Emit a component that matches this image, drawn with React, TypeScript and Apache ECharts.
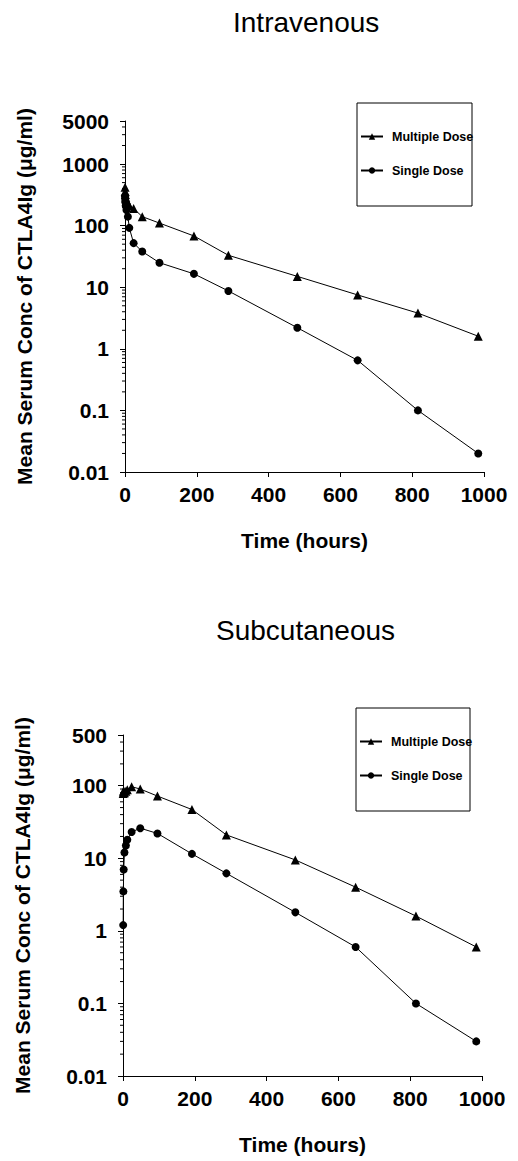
import React, { useEffect, useRef } from "react";
import * as echarts from "echarts";

// ---- Data (hours, µg/ml) ----
const ivTimes = [0.25, 0.5, 1, 2, 4, 8, 12, 24, 48, 96, 192, 288, 480, 648, 816, 984];
const ivMultiple = [420, 360, 320, 290, 260, 230, 210, 190, 140, 110, 68, 33, 15, 7.5, 3.8, 1.6];
const ivSingle = [300, 270, 240, 210, 180, 140, 92, 52, 38, 25, 16.5, 8.7, 2.2, 0.65, 0.1, 0.02];

const scTimes = [0.5, 1, 2, 4, 8, 12, 24, 48, 96, 192, 288, 480, 648, 816, 984];
const scMultiple = [78, 82, 85, 80, 84, 88, 97, 90, 72, 47, 21, 9.5, 4, 1.6, 0.6];
const scSingle = [1.2, 3.5, 7, 12, 15, 18, 23, 26, 22, 11.5, 6.2, 1.8, 0.6, 0.1, 0.03];

const xTicks = [0, 200, 400, 600, 800, 1000];
const ivYRange = [0.01, 5000];
const scYRange = [0.01, 500];

const seriesNames = ["Multiple Dose", "Single Dose"];
const titles = ["Intravenous", "Subcutaneous"];
const xName = "Time (hours)";
const yName = "Mean Serum Conc of CTLA4Ig (μg/ml)";

function minorTickValues(min: number, max: number): number[][] {
  const out: number[][] = [];
  for (let d = min; d < max; d *= 10) {
    for (let m = 2; m <= 9; m++) {
      const v = +(d * m).toPrecision(6);
      if (v < max) out.push([0, v]);
    }
  }
  return out;
}

const FONT = "'Liberation Sans', Arial, Helvetica, sans-serif";

export default function App() {
  const ref = useRef<HTMLDivElement>(null);

  useEffect(() => {
    if (!ref.current) return;
    const chart = echarts.init(ref.current, null, { renderer: "svg" });

    const grids = [
      { left: 125, top: 121, width: 359, height: 351 },
      { left: 123, top: 735, width: 359, height: 341 },
    ];

    const axisLabelStyle = {
      color: "#000",
      fontSize: 21,
      fontWeight: "bold" as const,
      fontFamily: FONT,
    };

    const xAxes = [0, 1].map((i) => ({
      type: "value" as const,
      gridIndex: i,
      min: xTicks[0],
      max: xTicks[xTicks.length - 1],
      interval: xTicks[1] - xTicks[0],
      axisLine: { show: true, onZero: false, lineStyle: { color: "#000", width: 1 } },
      axisTick: { show: true, inside: false, length: 5, lineStyle: { color: "#000" } },
      splitLine: { show: false },
      axisLabel: { ...axisLabelStyle, margin: 12, formatter: (v: number) => String(v) },
      name: xName,
      nameLocation: "middle" as const,
      nameGap: 58,
      nameTextStyle: { ...axisLabelStyle },
    }));

    const ranges = [ivYRange, scYRange];
    const yAxes = [0, 1].map((i) => ({
      type: "log" as const,
      logBase: 10,
      gridIndex: i,
      min: ranges[i][0],
      max: ranges[i][1],
      axisLine: { show: true, lineStyle: { color: "#000", width: 1 } },
      axisTick: { show: true, inside: false, length: 5, lineStyle: { color: "#000" } },
      splitLine: { show: false },
      axisLabel: {
        ...axisLabelStyle,
        margin: 16,
        formatter: (v: number) => String(+Number(v).toPrecision(4)),
      },
      name: yName,
      nameLocation: "middle" as const,
      nameGap: 90,
      nameTextStyle: { ...axisLabelStyle },
    }));

    const lineSeries = (name: string, times: number[], vals: number[], idx: number, symbol: string) => ({
      type: "line" as const,
      name,
      xAxisIndex: idx,
      yAxisIndex: idx,
      data: times.map((t, k) => [t, vals[k]]),
      symbol,
      symbolSize: symbol === "triangle" ? 9 : 8,
      showSymbol: true,
      itemStyle: { color: "#000" },
      lineStyle: { color: "#000", width: 1 },
      z: 3,
    });

    const minorSeries = (idx: number) => ({
      type: "custom" as const,
      xAxisIndex: idx,
      yAxisIndex: idx,
      clip: false,
      silent: true,
      data: minorTickValues(ranges[idx][0], ranges[idx][1]),
      renderItem: (_params: any, api: any) => {
        const p = api.coord([api.value(0), api.value(1)]);
        return {
          type: "line",
          shape: { x1: p[0] - 3, y1: p[1], x2: p[0], y2: p[1] },
          style: { stroke: "#000", lineWidth: 1 },
        };
      },
      z: 2,
    });

    const legendBase = {
      orient: "vertical" as const,
      itemWidth: 22,
      itemHeight: 8,
      itemGap: 21,
      padding: 0,
      data: seriesNames,
      selectedMode: false,
      textStyle: {
        color: "#000",
        fontSize: 12.5,
        fontWeight: "bold" as const,
        fontFamily: FONT,
        padding: [0, 0, 0, 4],
      },
    };

    chart.setOption({
      animation: false,
      backgroundColor: "#fff",
      title: [
        {
          text: titles[0],
          left: 233,
          top: 8,
          padding: 0,
          textStyle: { color: "#000", fontSize: 28, fontWeight: "normal", fontFamily: FONT },
        },
        {
          text: titles[1],
          left: 216,
          top: 616,
          padding: 0,
          textStyle: { color: "#000", fontSize: 28, fontWeight: "normal", fontFamily: FONT },
        },
      ],
      legend: [
        { ...legendBase, left: 360, top: 130 },
        { ...legendBase, left: 359, top: 735 },
      ],
      grid: grids,
      xAxis: xAxes,
      yAxis: yAxes,
      series: [
        lineSeries(seriesNames[0], ivTimes, ivMultiple, 0, "triangle"),
        lineSeries(seriesNames[1], ivTimes, ivSingle, 0, "circle"),
        lineSeries(seriesNames[0], scTimes, scMultiple, 1, "triangle"),
        lineSeries(seriesNames[1], scTimes, scSingle, 1, "circle"),
        minorSeries(0),
        minorSeries(1),
      ],
      graphic: [
        {
          type: "rect",
          shape: { x: 357, y: 103, width: 115, height: 103 },
          style: { fill: "none", stroke: "#000", lineWidth: 1 },
          silent: true,
        },
        {
          type: "rect",
          shape: { x: 356, y: 708, width: 114, height: 103 },
          style: { fill: "none", stroke: "#000", lineWidth: 1 },
          silent: true,
        },
      ],
    });

    return () => chart.dispose();
  }, []);

  return (
    <div
      ref={ref}
      style={{ position: "fixed", left: 0, top: 0, width: 518, height: 1161, background: "#fff" }}
    />
  );
}
